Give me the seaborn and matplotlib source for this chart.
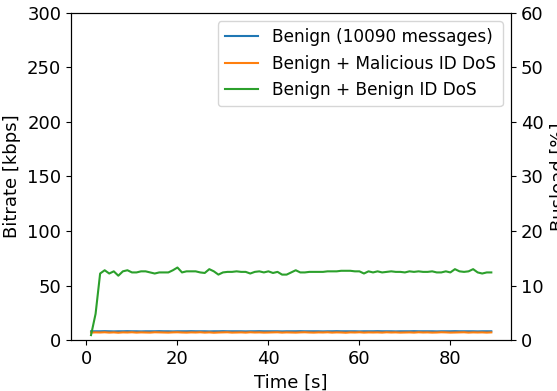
import numpy as np
import pandas as pd
import matplotlib
matplotlib.use("Agg")
import matplotlib.pyplot as plt
import seaborn as sns

# Time axis in seconds
time_s = list(range(1, 90))

# Bitrate in kbps for each scenario
benign = [8.0, 8.0, 8.0, 8.1, 8.0, 7.9, 8.0, 8.0, 8.1, 8.0,
          8.0, 7.9, 8.0, 8.0, 8.0, 8.1, 8.0, 8.0, 7.9, 8.0,
          8.0, 8.0, 8.1, 8.0, 8.0, 8.0, 7.9, 8.0, 8.0, 8.1,
          8.0, 8.0, 8.0, 8.0, 7.9, 8.0, 8.0, 8.1, 8.0, 8.0,
          8.0, 8.0, 7.9, 8.0, 8.0, 8.0, 8.1, 8.0, 8.0, 8.0,
          8.0, 7.9, 8.0, 8.0, 8.1, 8.0, 8.0, 8.0, 8.0, 7.9,
          8.0, 8.0, 8.0, 8.1, 8.0, 8.0, 8.0, 7.9, 8.0, 8.0,
          8.0, 8.1, 8.0, 8.0, 8.0, 8.0, 7.9, 8.0, 8.0, 8.0,
          8.1, 8.0, 8.0, 8.0, 8.0, 7.9, 8.0, 8.0, 8.0]
malicious = [6.8, 7.0, 6.9, 7.1, 6.8, 7.0, 6.7, 7.0, 6.9, 7.1,
             6.8, 7.0, 6.9, 6.8, 7.1, 7.0, 6.9, 6.8, 7.0, 7.1,
             6.9, 6.8, 7.0, 6.9, 7.1, 6.8, 7.0, 6.7, 6.9, 7.0,
             7.1, 6.8, 6.9, 7.0, 6.8, 7.1, 6.9, 7.0, 6.8, 6.9,
             7.0, 7.1, 6.8, 7.0, 6.9, 6.8, 7.0, 7.1, 6.9, 6.8,
             7.0, 6.9, 7.1, 6.8, 7.0, 6.9, 6.7, 7.0, 6.9, 7.1,
             6.8, 7.0, 6.9, 7.0, 6.8, 7.1, 6.9, 7.0, 6.8, 6.9,
             7.0, 6.8, 7.1, 6.9, 7.0, 6.8, 6.9, 7.1, 7.0, 6.8,
             6.9, 7.0, 7.1, 6.8, 7.0, 6.9, 7.0, 6.8, 7.0]
benign_dos = [4.5, 24.0, 61.0, 64.0, 61.0, 63.0, 59.0, 63.0, 64.0, 62.0,
              62.0, 63.0, 63.0, 62.0, 61.0, 62.0, 62.0, 62.0, 64.0, 66.5,
              62.0, 63.0, 63.0, 63.0, 62.0, 61.5, 65.0, 63.0, 60.0, 62.0,
              62.5, 62.5, 63.0, 62.5, 62.5, 61.0, 62.5, 63.0, 62.0, 63.0,
              61.5, 62.5, 60.0, 60.0, 62.0, 64.0, 62.0, 62.0, 62.5, 62.5,
              62.5, 62.5, 63.0, 63.0, 63.0, 63.5, 63.5, 63.5, 63.0, 63.0,
              61.0, 63.0, 62.0, 63.0, 62.0, 62.5, 63.0, 62.5, 62.5, 62.0,
              63.0, 62.5, 63.0, 62.5, 62.5, 63.0, 62.0, 62.0, 63.0, 62.0,
              65.0, 63.0, 62.5, 63.0, 65.0, 62.0, 61.0, 62.0, 62.0]

labels = ["Benign (10090 messages)",
          "Benign + Malicious ID DoS",
          "Benign + Benign ID DoS"]

df = pd.DataFrame({
    "Time [s]": time_s * 3,
    "Bitrate": benign + malicious + benign_dos,
    "Scenario": [labels[0]] * len(time_s) + [labels[1]] * len(time_s) + [labels[2]] * len(time_s),
})

plt.rcParams["font.family"] = ["DejaVu Sans"]
plt.rcParams["font.size"] = 13

fig = plt.figure(figsize=(5.57, 3.91), dpi=100)
ax = fig.add_axes([0.1275, 0.1304, 0.7905, 0.8364])

sns.lineplot(data=df, x="Time [s]", y="Bitrate", hue="Scenario",
             palette=["#1f77b4", "#ff7f0e", "#2ca02c"], linewidth=1.5, ax=ax)

ax.set_ylim(0, 300)
ax.set_xticks([0, 20, 40, 60, 80])
ax.set_xlabel("Time [s]")
ax.set_ylabel("Bitrate [kbps]")
ax.legend(loc="upper right", title=None, fontsize=12.2)

ax2 = ax.twinx()
ax2.set_ylim(0, 60)
ax2.set_ylabel("Busload [%]")

fig.savefig("out.png", dpi=100)
